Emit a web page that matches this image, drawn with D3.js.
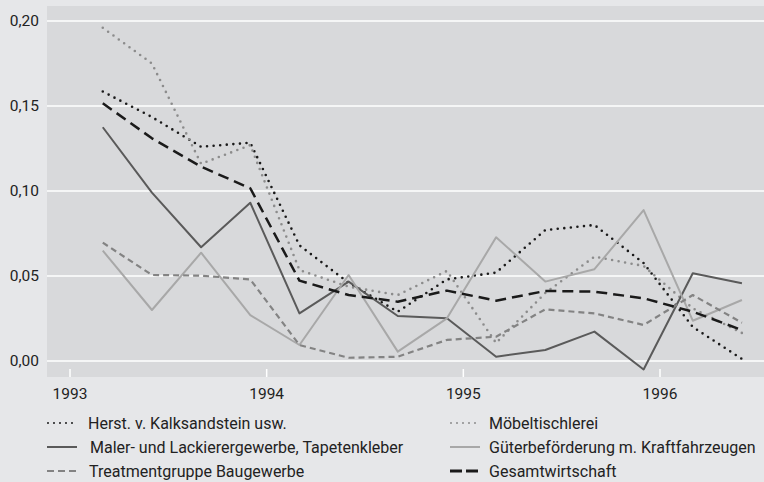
<!DOCTYPE html>
<html><head><meta charset="utf-8">
<script src="https://cdn.jsdelivr.net/npm/d3@7"></script>
<style>
html,body{margin:0;padding:0;background:#e6e7e9;}
svg{display:block;font-family:Roboto,"Noto Sans",sans-serif;}
</style></head>
<body><svg id="c" width="764" height="482"></svg>
<script>
// dates: first of month 3,6,9,12 each year
const dates = ["1993-03","1993-06","1993-09","1993-12","1994-03","1994-06","1994-09","1994-12","1995-03","1995-06","1995-09","1995-12","1996-03","1996-06"];
const herst   = [0.1585,0.1435,0.126,0.1284,0.068,0.046,0.029,0.048,0.052,0.077,0.080,0.0576,0.020,0.0012];
const moebel  = [0.196,0.175,0.116,0.127,0.0535,0.0437,0.0388,0.053,0.0106,0.040,0.0614,0.0559,0.031,0.0165];
const maler   = [0.1375,0.099,0.0669,0.0931,0.028,0.0467,0.0265,0.0251,0.0025,0.0065,0.0173,-0.005,0.0516,0.0457];
const gueter  = [0.0649,0.030,0.0637,0.027,0.0094,0.0506,0.0055,0.0251,0.0728,0.0467,0.054,0.0888,0.0237,0.0359];
const treat   = [0.0696,0.0506,0.0502,0.048,0.0094,0.0019,0.0025,0.0124,0.0143,0.0304,0.028,0.0212,0.0388,0.0225];
const gesamt  = [0.1516,0.131,0.1143,0.1016,0.0473,0.0388,0.0349,0.0414,0.0355,0.0412,0.0408,0.0369,0.029,0.0182];
const yTicks = [0,0.05,0.10,0.15,0.20];
const yTickLabels = ["0,00","0,05","0,10","0,15","0,20"];
const xTicks = [1993,1994,1995,1996];
const names = ["Herst. v. Kalksandstein usw.","Möbeltischlerei","Maler- und Lackierergewerbe, Tapetenkleber","Güterbeförderung m. Kraftfahrzeugen","Treatmentgruppe Baugewerbe","Gesamtwirtschaft"];

const toYear = s => { const [y,m] = s.split("-").map(Number); return y + (m-1)/12; };
const xs = dates.map(toYear);

const series = [
  {name:names[0], vals:herst,  color:"#1a1a1a", w:2.6, dash:"0,6.6", cap:"round"},
  {name:names[1], vals:moebel, color:"#8c8c8c", w:2.6, dash:"0,6.6", cap:"round"},
  {name:names[2], vals:maler,  color:"#5a5a5a", w:2,   dash:null, cap:"butt"},
  {name:names[3], vals:gueter, color:"#a8a8a8", w:2,   dash:null, cap:"butt"},
  {name:names[4], vals:treat,  color:"#838383", w:2.2, dash:"6,4", cap:"butt"},
  {name:names[5], vals:gesamt, color:"#1a1a1a", w:2.5, dash:"11,6", cap:"butt"}
];

const svg = d3.select("#c");
const x = d3.scaleLinear().domain([1993,1996]).range([70,660]);
const y = d3.scaleLinear().domain([0,0.2]).range([361,21]);

// panel
svg.append("rect").attr("x",47).attr("y",6).attr("width",764-47).attr("height",377-6).attr("fill","#d8d9db");

// grid
svg.append("g").selectAll("line").data(yTicks).join("line")
  .attr("x1",47).attr("x2",764).attr("y1",d=>y(d)).attr("y2",d=>y(d))
  .attr("stroke","#fff").attr("stroke-width",1.3);

// y labels
svg.append("g").selectAll("text").data(yTicks).join("text")
  .attr("x",39).attr("y",d=>y(d)).attr("dy","0.35em").attr("text-anchor","end")
  .attr("font-size",15.5).attr("fill","#222").text((d,i)=>yTickLabels[i]);

// x ticks
svg.append("g").selectAll("line").data(xTicks).join("line")
  .attr("x1",d=>x(d)).attr("x2",d=>x(d)).attr("y1",369).attr("y2",377)
  .attr("stroke","#fff").attr("stroke-width",1.5);
svg.append("g").selectAll("text").data(xTicks).join("text")
  .attr("x",d=>x(d)).attr("y",399).attr("text-anchor","middle")
  .attr("font-size",15.5).attr("fill","#222").text(d=>d);

// lines
const line = d3.line().x((d,i)=>x(xs[i])).y(d=>y(d));
const gl = svg.append("g");
series.forEach(s=>{
  gl.append("path").datum(s.vals).attr("d",line).attr("fill","none")
    .attr("stroke",s.color).attr("stroke-width",s.w)
    .attr("stroke-dasharray",s.dash).attr("stroke-linecap",s.cap)
    .attr("stroke-linejoin","round");
});

// legend
const leg = [
  {s:series[0], hx:47, tx:88, by:429},
  {s:series[2], hx:47, tx:90, by:453},
  {s:series[4], hx:47, tx:89, by:477},
  {s:series[1], hx:450, tx:489, by:429},
  {s:series[3], hx:450, tx:489, by:453},
  {s:series[5], hx:450, tx:489, by:477}
];
const lg = svg.append("g");
leg.forEach(l=>{
  const s = l.s, cy = l.by-6;
  let dash = s.dash, w = s.w;
  if (s === series[0] || s === series[1]) { dash = "0,6"; w = 2; }
  if (s === series[4]) dash = "7,4";
  if (s === series[5]) { dash = "12,4"; w = 3; }
  lg.append("line").attr("x1",l.hx+(s.cap==="round"?1:0)).attr("x2",l.hx+30).attr("y1",cy).attr("y2",cy)
    .attr("stroke",s.color).attr("stroke-width",w).attr("stroke-dasharray",dash).attr("stroke-linecap",s.cap);
  lg.append("text").attr("x",l.tx).attr("y",l.by).attr("font-size",16).attr("fill","#222").text(s.name);
});
</script></body></html>
